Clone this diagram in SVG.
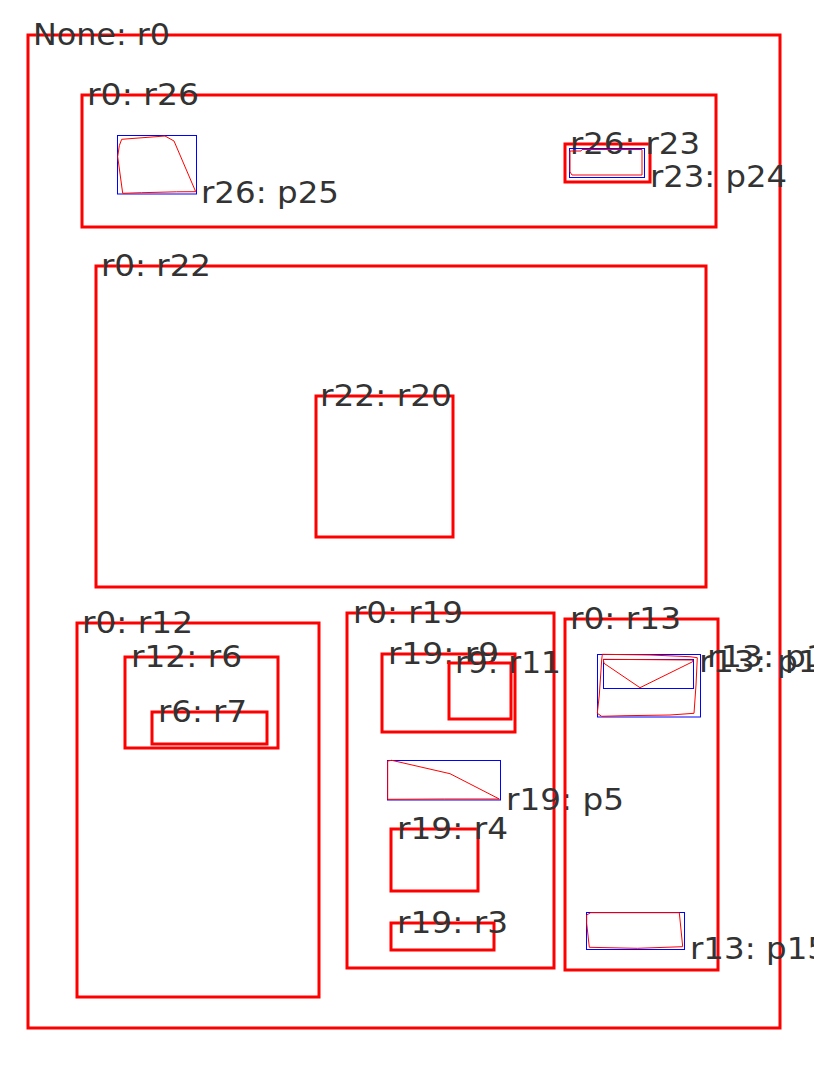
<svg xmlns="http://www.w3.org/2000/svg" width="814" height="1066" viewBox="0 0 814 1066">
<style>
.r{fill:none;stroke:#ff0000;stroke-width:3}
.b{fill:none;stroke:#0000ff;stroke-width:1}
.p{fill:none;stroke:#ff0000;stroke-width:1}
text{font-family:"DejaVu Sans","Liberation Sans",sans-serif;font-size:30px;fill:#333333}
</style>
<rect width="814" height="1066" fill="#ffffff"/>
<g id="r0"><rect class="r" x="28" y="35" width="752" height="993"/><text x="33" y="45" textLength="137" lengthAdjust="spacingAndGlyphs">None: r0</text></g>
<g id="r26"><rect class="r" x="82" y="95" width="634" height="132"/><text x="87" y="105" textLength="112" lengthAdjust="spacingAndGlyphs">r0: r26</text></g>
<g id="p25"><rect class="b" x="117.5" y="135.5" width="79" height="58.5"/><polygon class="p" points="121.7,139.3 165,136 174,141 195.7,191.7 176.7,191.8 141.7,192.7 122.7,193.3 117.7,156.7 119.3,145.7"/><text x="201" y="203" textLength="138" lengthAdjust="spacingAndGlyphs">r26: p25</text></g>
<g id="r23"><rect class="r" x="565" y="144" width="85" height="38"/><text x="570" y="154" textLength="130" lengthAdjust="spacingAndGlyphs">r26: r23</text></g>
<g id="p24"><rect class="b" x="569.5" y="148.5" width="75" height="29"/><polygon class="p" points="570,151 581,151 582,149.5 642,149.5 642,175 572,175 570,172"/><text x="650" y="187" textLength="137" lengthAdjust="spacingAndGlyphs">r23: p24</text></g>
<g id="r22"><rect class="r" x="96" y="266" width="610" height="321"/><text x="101" y="276" textLength="110" lengthAdjust="spacingAndGlyphs">r0: r22</text></g>
<g id="r20"><rect class="r" x="316" y="396" width="137" height="141"/><text x="320" y="406" textLength="132" lengthAdjust="spacingAndGlyphs">r22: r20</text></g>
<g id="r12"><rect class="r" x="77" y="623" width="242" height="374"/><text x="82" y="633" textLength="111" lengthAdjust="spacingAndGlyphs">r0: r12</text></g>
<g id="r6"><rect class="r" x="125" y="657" width="153" height="91"/><text x="131" y="667" textLength="111" lengthAdjust="spacingAndGlyphs">r12: r6</text></g>
<g id="r7"><rect class="r" x="152" y="712" width="115" height="32"/><text x="158" y="722" textLength="89" lengthAdjust="spacingAndGlyphs">r6: r7</text></g>
<g id="r19"><rect class="r" x="347" y="613" width="207" height="355"/><text x="353" y="623" textLength="110" lengthAdjust="spacingAndGlyphs">r0: r19</text></g>
<g id="r9"><rect class="r" x="382" y="654" width="133" height="78"/><text x="388" y="664" textLength="111" lengthAdjust="spacingAndGlyphs">r19: r9</text></g>
<g id="r11"><rect class="r" x="449" y="663" width="62" height="56"/><text x="455" y="673" textLength="106" lengthAdjust="spacingAndGlyphs">r9: r11</text></g>
<g id="p5"><rect class="b" x="387.5" y="760.5" width="113" height="39.5"/><polygon class="p" points="387.7,761 391.7,760.3 450,773.7 499.3,799 444.3,799 387.7,799.3"/><text x="506" y="810" textLength="118" lengthAdjust="spacingAndGlyphs">r19: p5</text></g>
<g id="r4"><rect class="r" x="391" y="829" width="87" height="62"/><text x="397" y="839" textLength="111" lengthAdjust="spacingAndGlyphs">r19: r4</text></g>
<g id="r3"><rect class="r" x="391" y="923" width="103" height="27"/><text x="397" y="933" textLength="111" lengthAdjust="spacingAndGlyphs">r19: r3</text></g>
<g id="r13"><rect class="r" x="565" y="619" width="153" height="351"/><text x="570" y="629" textLength="111" lengthAdjust="spacingAndGlyphs">r0: r13</text></g>
<g id="p1a"><rect class="b" x="597.5" y="654.5" width="103" height="62.5"/><polygon class="p" points="602.3,654.3 650,655 690,656.7 697.3,657.7 696,685 694,713.3 670,715 625,715.7 601.7,716.3 597.3,713.3 599.3,695 601.7,660"/><text x="707" y="667" textLength="120" lengthAdjust="spacingAndGlyphs">r13: p1</text></g>
<g id="p1b"><rect class="b" x="603.5" y="659.5" width="90" height="29"/><polygon class="p" points="603.3,659.3 692.7,660 692.7,661.7 640,687.7 604,663.3"/><text x="699" y="672" textLength="120" lengthAdjust="spacingAndGlyphs">r13: p1</text></g>
<g id="p15"><rect class="b" x="586.5" y="912.5" width="98" height="37"/><polygon class="p" points="586.7,915 590.7,912.7 679.3,912.7 682.7,946.7 637.3,948.3 589.3,947.3 586.7,923.3"/><text x="690" y="959" textLength="138" lengthAdjust="spacingAndGlyphs">r13: p15</text></g>
</svg>
